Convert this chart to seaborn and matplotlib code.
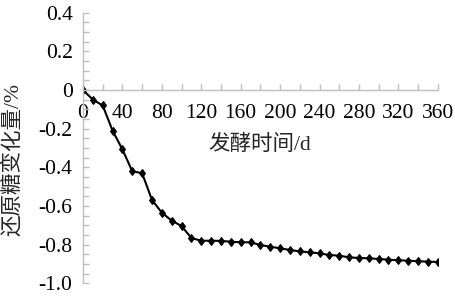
import matplotlib
matplotlib.use("Agg")
import matplotlib.pyplot as plt
import seaborn as sns
import pandas as pd
from matplotlib.ticker import MultipleLocator, FixedLocator

days = [0, 10, 20, 30, 40, 50, 60, 70, 80, 90, 100, 110, 120, 130, 140, 150,
        160, 170, 180, 190, 200, 210, 220, 230, 240, 250, 260, 270, 280, 290,
        300, 310, 320, 330, 340, 350, 360]
change = [0.0, -0.05, -0.08, -0.21, -0.307, -0.42, -0.43, -0.568, -0.634,
          -0.675, -0.703, -0.765, -0.779, -0.779, -0.780, -0.784, -0.787,
          -0.787, -0.801, -0.810, -0.818, -0.827, -0.834, -0.839, -0.844,
          -0.853, -0.856, -0.865, -0.868, -0.870, -0.873, -0.877, -0.880,
          -0.882, -0.885, -0.887, -0.889]
x_ticks = [0, 40, 80, 120, 160, 200, 240, 280, 320, 360]
y_ticks = [0.4, 0.2, 0.0, -0.2, -0.4, -0.6, -0.8, -1.0]
y_tick_labels = ["0.4", "0.2", "0", "-0.2", "-0.4", "-0.6", "-0.8", "-1.0"]
x_label = "发酵时间/d"
y_label = "还原糖变化量/%"

sns.set_style("white")
plt.rcParams["font.family"] = ["Liberation Serif", "Noto Sans CJK SC"]

fig = plt.figure(figsize=(4.56, 3.02), dpi=100)
ax = fig.add_axes([0.182, 0.0613, 0.778, 0.8970])

df = pd.DataFrame({"day": days, "change": change})
sns.lineplot(data=df, x="day", y="change", ax=ax, color="black",
             linewidth=1.5, marker="d", markersize=4.5,
             markeredgecolor="black", markerfacecolor="black")

ax.set_xlim(0, 360)
ax.set_ylim(-1.0, 0.4)
ax.set_xlabel("")
ax.set_ylabel("")

ax.xaxis.set_major_locator(FixedLocator(x_ticks))
ax.xaxis.set_minor_locator(MultipleLocator(20))
ax.yaxis.set_major_locator(FixedLocator(y_ticks))
ax.set_yticklabels(y_tick_labels)
ax.yaxis.set_minor_locator(MultipleLocator(0.05))

gray = "#bfbfbf"
for s in ["top", "right"]:
    ax.spines[s].set_visible(False)
ax.spines["bottom"].set_position(("data", 0))
ax.spines["bottom"].set_color(gray)
ax.spines["left"].set_color(gray)
ax.spines["bottom"].set_linewidth(1.0)
ax.spines["left"].set_linewidth(1.0)

ax.tick_params(axis="both", which="both", direction="in", color=gray,
               labelsize=15.5, labelcolor="black")
ax.tick_params(axis="x", which="both", length=4, width=1.0, pad=10,
               bottom=True)
ax.tick_params(axis="y", which="both", length=4, width=1.0, pad=7.5, left=True)

fig.text(260 / 456, 1 - 145 / 302, x_label, ha="center", va="center",
         fontsize=15.5)
fig.text(13 / 456, 1 - 160 / 302, y_label, ha="center", va="center",
         rotation=90, fontsize=15.5)

fig.savefig("out.png", dpi=100)
